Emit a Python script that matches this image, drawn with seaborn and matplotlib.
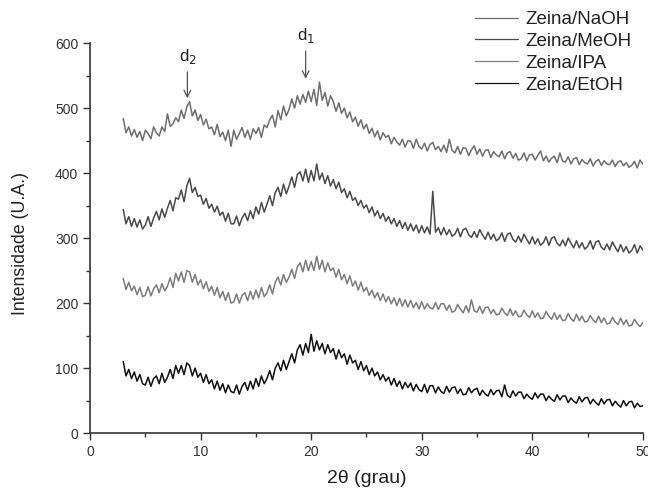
import numpy as np
import pandas as pd
import matplotlib
matplotlib.use("Agg")
import matplotlib.pyplot as plt
import seaborn as sns
from matplotlib.ticker import MultipleLocator

sns.set_style("ticks")
plt.rcParams['font.family'] = ['Liberation Sans', 'DejaVu Sans']

two_theta = np.arange(3.0, 50.001, 0.25)

series_names = ["Zeina/NaOH", "Zeina/MeOH", "Zeina/IPA", "Zeina/EtOH"]

naoh = [
    484, 462, 471, 457,  467, 455, 464, 450,  466, 461, 453, 471,  462, 457, 471, 464,
    491, 472, 476, 485,  479, 497, 484, 502,  510, 488, 497, 481,  490, 474, 483, 468,
    471, 459, 475, 456,  463, 450, 466, 441,  466, 452, 461, 470,  455, 466, 452, 468,
    461, 470, 455, 474,  470, 482, 489, 471,  496, 482, 503, 488,  498, 514, 500, 519,
    506, 521, 509, 526,  510, 529, 504, 540,  512, 524, 503, 519,  510, 495, 508, 492,
    500, 485, 494, 479,  486, 472, 482, 468,  475, 461, 469, 456,  465, 451, 462, 455,
    458, 445, 455, 448,  443, 452, 440, 450,  449, 438, 452, 441,  437, 446, 434, 444,
    447, 436, 441, 433,  443, 432, 452, 435,  431, 441, 429, 439,  438, 427, 436, 442,
    429, 437, 426, 435,  436, 424, 433, 428,  425, 434, 422, 431,  433, 423, 430, 420,
    422, 431, 419, 428,  429, 420, 427, 434,  419, 426, 417, 423,  426, 416, 431, 418,
    417, 425, 414, 422,  424, 413, 421, 416,  414, 422, 411, 418,  421, 412, 419, 414,
    413, 420, 410, 417,  419, 411, 416, 409,  412, 418, 408, 420,  414,
]

meoh = [
    344, 322, 333, 318,  330, 317, 328, 314,  320, 333, 318, 331,  341, 328, 345, 332,
    346, 358, 342, 362,  360, 374, 356, 380,  392, 370, 378, 364,  366, 352, 361, 346,
    352, 340, 349, 335,  340, 326, 338, 322,  322, 334, 319, 331,  338, 327, 342, 330,
    348, 337, 355, 340,  352, 365, 350, 370,  378, 364, 383, 368,  380, 394, 378, 398,
    402, 388, 406, 386,  404, 388, 414, 390,  400, 384, 396, 380,  390, 376, 386, 370,
    376, 362, 372, 358,  362, 350, 358, 346,  351, 339, 348, 334,  342, 330, 338, 326,
    333, 322, 330, 318,  327, 315, 324, 312,  322, 311, 320, 308,  319, 308, 317, 306,
    372, 309, 316, 305,  316, 305, 313, 303,  306, 315, 302, 313,  315, 305, 301, 310,
    301, 313, 305, 298,  309, 298, 306, 296,  299, 308, 295, 306,  308, 298, 294, 303,
    294, 306, 298, 291,  302, 291, 299, 289,  293, 302, 289, 300,  302, 292, 288, 297,
    288, 300, 292, 285,  296, 285, 293, 283,  287, 296, 283, 294,  296, 286, 282, 291,
    282, 294, 286, 279,  290, 279, 287, 277,  281, 290, 277, 288,  282,
]

ipa = [
    238, 221, 232, 219,  226, 213, 224, 210,  212, 225, 211, 222,  228, 216, 230, 219,
    226, 239, 224, 246,  234, 248, 232, 250,  248, 232, 244, 228,  236, 222, 233, 218,
    226, 212, 224, 208,  218, 204, 216, 200,  202, 214, 200, 212,  216, 204, 218, 206,
    220, 208, 224, 210,  216, 228, 214, 232,  240, 228, 244, 232,  240, 252, 238, 256,
    262, 248, 266, 250,  264, 250, 272, 252,  266, 248, 262, 250,  254, 240, 252, 236,
    244, 230, 242, 226,  234, 220, 232, 218,  224, 212, 220, 208,  216, 204, 214, 202,
    210, 199, 208, 196,  207, 195, 205, 194,  204, 193, 201, 191,  202, 191, 199, 193,
    191, 201, 190, 199,  199, 189, 197, 186,  188, 198, 191, 185,  196, 186, 205, 188,
    186, 195, 184, 193,  194, 184, 190, 182,  183, 192, 185, 181,  191, 181, 188, 179,
    180, 189, 182, 178,  188, 178, 185, 176,  177, 187, 180, 175,  185, 175, 182, 173,
    174, 184, 176, 172,  183, 173, 180, 171,  172, 181, 174, 170,  180, 170, 177, 168,
    169, 178, 171, 167,  177, 167, 174, 165,  166, 175, 168, 164,  170,
]

etoh = [
    110, 88, 98, 84,  94, 80, 90, 76,  74, 86, 72, 84,  88, 76, 92, 78,
    86, 98, 84, 104,  92, 104, 90, 108,  104, 88, 100, 86,  92, 78, 90, 76,
    82, 68, 80, 66,  76, 62, 74, 64,  62, 74, 60, 72,  78, 66, 80, 68,
    84, 72, 88, 76,  84, 96, 82, 100,  108, 96, 112, 98,  110, 122, 108, 128,
    136, 120, 138, 124,  152, 126, 142, 128,  138, 122, 136, 124,  130, 114, 128, 116,
    122, 106, 120, 108,  112, 98, 110, 96,  104, 90, 100, 88,  94, 82, 90, 80,
    86, 74, 84, 72,  80, 68, 78, 70,  77, 65, 75, 67,  64, 75, 62, 73,
    73, 62, 71, 64,  61, 72, 63, 70,  71, 61, 68, 59,  60, 70, 62, 67,
    69, 58, 66, 60,  57, 67, 59, 65,  66, 56, 74, 58,  55, 65, 57, 63,
    63, 53, 60, 55,  52, 62, 54, 60,  60, 50, 57, 52,  49, 59, 51, 57,
    57, 47, 54, 49,  46, 56, 48, 54,  55, 45, 52, 47,  43, 53, 45, 51,
    52, 42, 49, 44,  40, 50, 42, 48,  49, 39, 46, 41,  42,
]

peak_labels = [r"d$_2$", r"d$_1$"]
peak_positions = [8.8, 19.5]

colors = ["#6e6e6e", "#4a4a4a", "#7c7c7c", "#111111"]

frames = []
for name, vals in zip(series_names, [naoh, meoh, ipa, etoh]):
    frames.append(pd.DataFrame({"x": two_theta, "y": vals, "s": name}))
df = pd.concat(frames, ignore_index=True)

fig = plt.figure(figsize=(6.48, 4.95), dpi=100)
ax = fig.add_axes([0.139, 0.125, 0.853, 0.788])

sns.lineplot(data=df, x="x", y="y", hue="s", palette=dict(zip(series_names, colors)),
             estimator=None, sort=False, linewidth=1.1, legend=False, ax=ax)

ax.set_xlim(0, 50)
ax.set_ylim(0, 600)
ax.xaxis.set_major_locator(MultipleLocator(10))
ax.xaxis.set_minor_locator(MultipleLocator(5))
ax.yaxis.set_major_locator(MultipleLocator(100))
ax.yaxis.set_minor_locator(MultipleLocator(50))
ax.tick_params(which="major", direction="out", length=5, width=1, colors="#333333",
               labelsize=10)
ax.tick_params(which="minor", direction="out", length=3, width=1, colors="#333333")
for sp in ["top", "right"]:
    ax.spines[sp].set_visible(False)
for sp in ["left", "bottom"]:
    ax.spines[sp].set_color("#333333")
    ax.spines[sp].set_linewidth(1.2)

ax.set_xlabel("2θ (grau)", fontsize=14, color="#222222", labelpad=8)
ax.set_ylabel("Intensidade (U.A.)", fontsize=12.8, color="#222222")
ax.yaxis.set_label_coords(-0.11, 0.487)

# peak annotations
ax.annotate(peak_labels[0], xy=(peak_positions[0], 515), xytext=(peak_positions[0], 565),
            ha="center", va="bottom", fontsize=12, color="#222222",
            arrowprops=dict(arrowstyle="->", color="#555555", lw=0.9, shrinkA=2, shrinkB=0),
            annotation_clip=False)
ax.annotate(peak_labels[1], xy=(peak_positions[1], 545), xytext=(peak_positions[1], 597),
            ha="center", va="bottom", fontsize=12, color="#222222",
            arrowprops=dict(arrowstyle="->", color="#555555", lw=0.9, shrinkA=2, shrinkB=0),
            annotation_clip=False)

handles = ax.get_lines()[:4]
leg = fig.legend(handles, series_names, loc="upper right", bbox_to_anchor=(0.998, 1.008),
                 frameon=False, fontsize=13.5, handlelength=2.3, handletextpad=0.4,
                 labelspacing=0.25, labelcolor="#222222", borderpad=0.3)
for h in leg.legend_handles:
    h.set_linewidth(0.9)

fig.savefig("out.png", dpi=100)
